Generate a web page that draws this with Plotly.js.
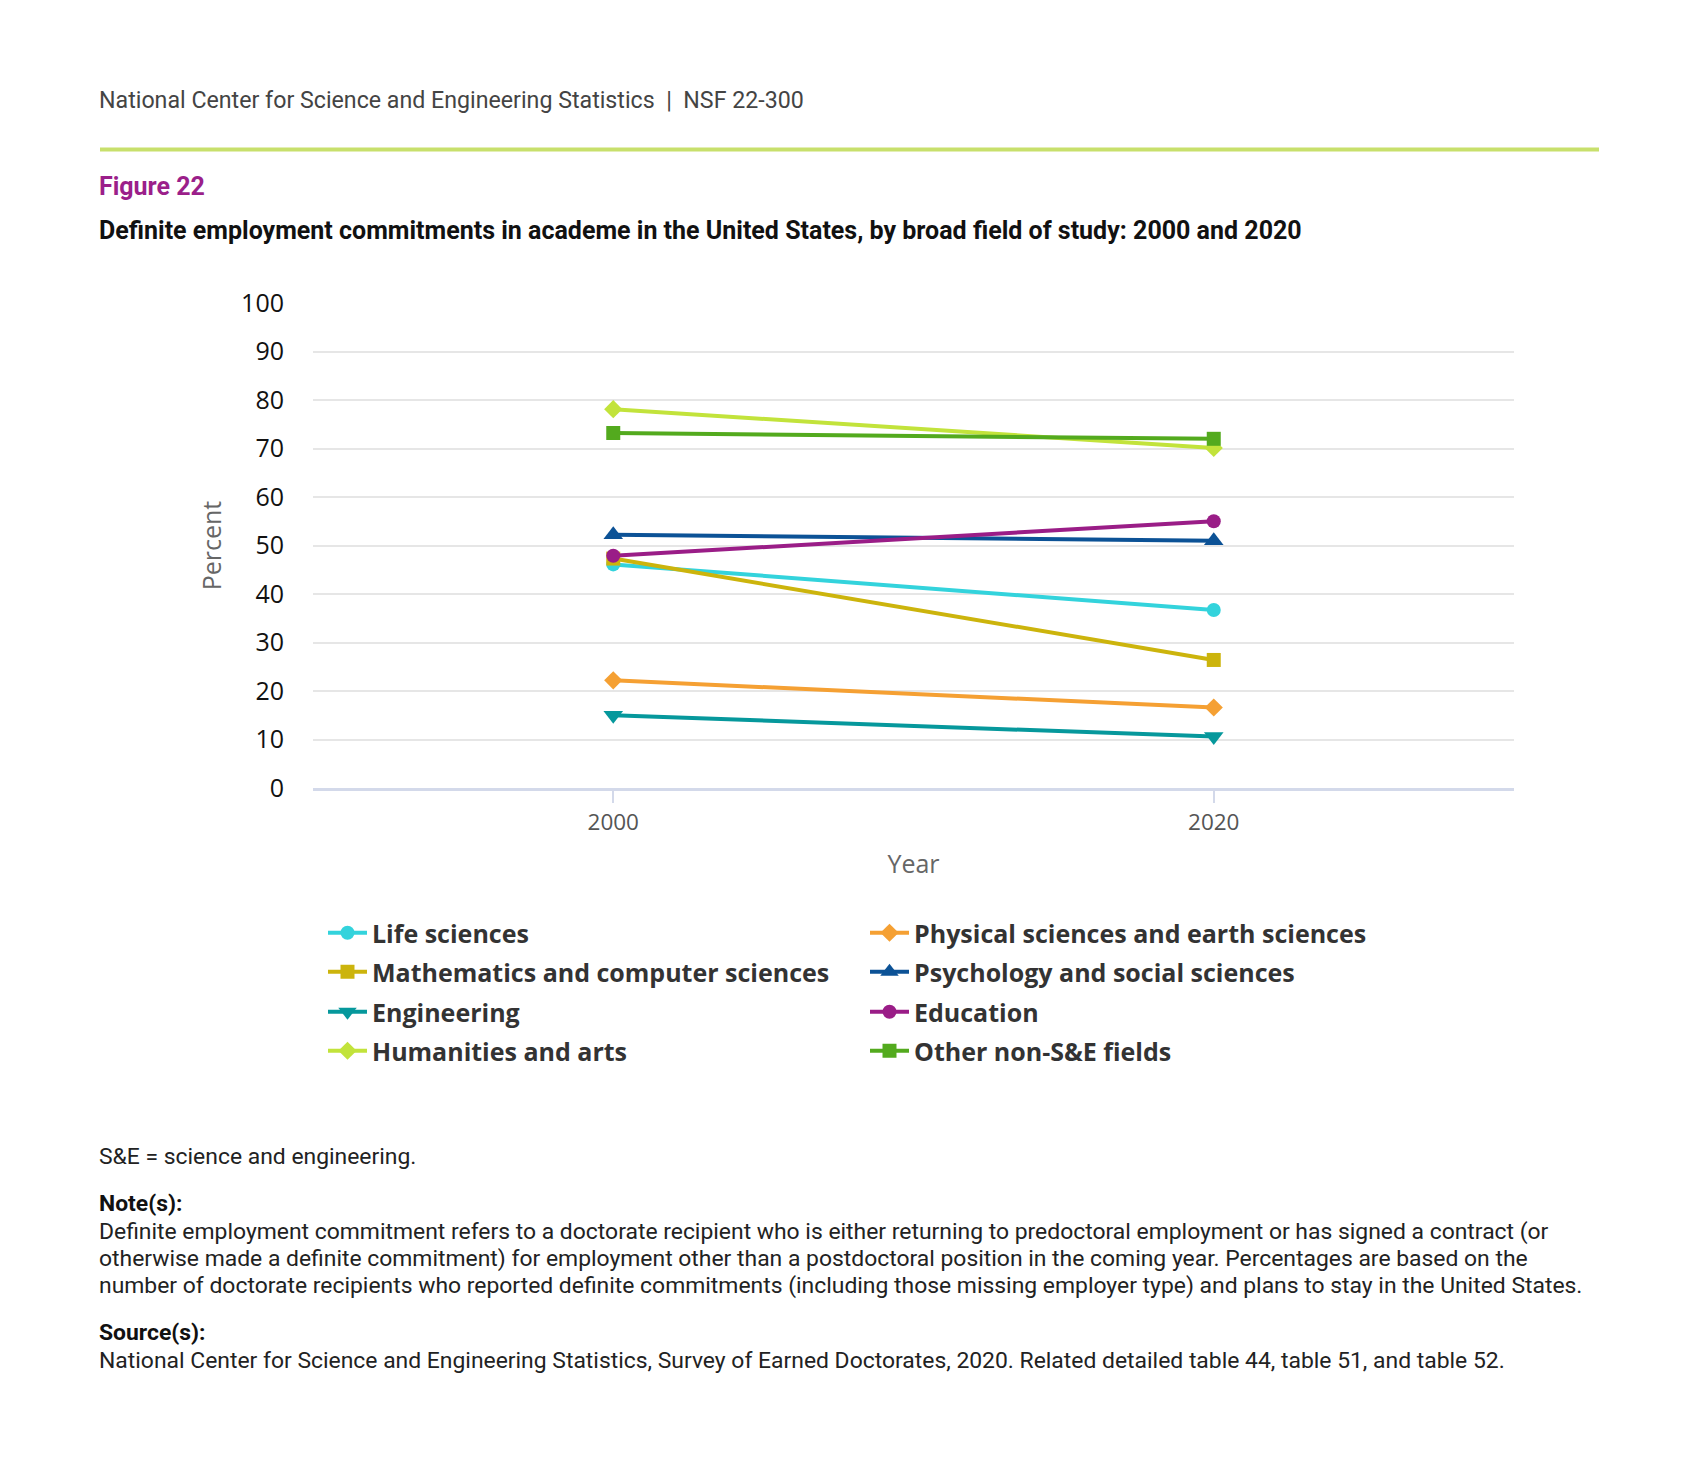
<!DOCTYPE html>
<html>
<head>
<meta charset="utf-8">
<script src="https://cdn.plot.ly/plotly-3.0.1.min.js"></script>
<style>
html,body{margin:0;padding:0;background:#fff;}
#chart{width:1699px;height:1482px;}
</style>
</head>
<body>
<div id="chart"></div>
<script>
// ---- Data ----
const years = [2000, 2020];
const seriesNames = [
  "Life sciences",
  "Physical sciences and earth sciences",
  "Mathematics and computer sciences",
  "Psychology and social sciences",
  "Engineering",
  "Education",
  "Humanities and arts",
  "Other non-S&E fields"
];
const lifeSciences = [46.1, 36.7];
const physicalSciences = [22.2, 16.6];
const mathCompSci = [47.3, 26.4];
const psychSocial = [52.2, 51.0];
const engineering = [15.0, 10.6];
const education = [47.9, 55.0];
const humanitiesArts = [78.1, 70.1];
const otherNonSE = [73.2, 72.0];
const seriesValues = [lifeSciences, physicalSciences, mathCompSci, psychSocial, engineering, education, humanitiesArts, otherNonSE];
const yTickVals = [0,10,20,30,40,50,60,70,80,90,100];
const xTickVals = [2000, 2020];

// ---- Styles ----
const colors = ["#33d3dc", "#f5a033", "#ccb40c", "#0c5296", "#06989c", "#9a1d87", "#c2e33b", "#53aa1e"];
const symbols = ["circle", "diamond", "square", "triangle-up", "triangle-down", "circle", "diamond", "square"];
const markerSizes = [14, 14, 14, 17, 17, 14, 14, 14];

const W = 1699, H = 1482;
const M = {l: 313, r: 185, t: 303, b: 694};
const PW = W - M.l - M.r, PH = H - M.t - M.b;
const px = x => (x - M.l) / PW;
const py = y => (H - M.b - y) / PH;

const legendRowY = [933, 972, 1012, 1051];

const traces = seriesNames.map((name, i) => ({
  type: "scatter",
  mode: "lines+markers",
  name: name,
  x: years,
  y: seriesValues[i],
  line: {color: colors[i], width: 4},
  marker: {color: colors[i], symbol: symbols[i], size: markerSizes[i]},
  legend: Math.floor(i / 2) === 0 ? "legend" : "legend" + (Math.floor(i / 2) + 1),
  hoverinfo: "x+y+name"
}));

const legendFont = {family: "Open Sans", size: 25, color: "#333", weight: 700};
function legendCfg(row) {
  return {
    orientation: "h",
    xref: "container", yref: "container",
    x: 323 / W, y: 1 - legendRowY[row] / H,
    xanchor: "left", yanchor: "middle",
    itemwidth: 39,
    entrywidth: 488, entrywidthmode: "pixels",
    font: legendFont,
    bgcolor: "rgba(0,0,0,0)",
    itemclick: false, itemdoubleclick: false
  };
}

const textFont = "Roboto";
const TX = 100;
const NS = 22.9;
const annotations = [
  {text: "National Center for Science and Engineering Statistics  |  NSF 22-300", x: px(TX), y: py(100),
   font: {family: textFont, size: 23.2, color: "#444"}},
  {text: "<b>Figure 22</b>", x: px(TX), y: py(186), font: {family: textFont, size: 25, color: "#9b1f8a"}},
  {text: "<b>Definite employment commitments in academe in the United States, by broad field of study: 2000 and 2020</b>",
   x: px(TX), y: py(230), font: {family: textFont, size: 25, color: "#111"}},
  {text: "S&E = science and engineering.", x: px(TX), y: py(1156), font: {family: textFont, size: NS, color: "#222"}},
  {text: "<b>Note(s):</b>", x: px(TX), y: py(1203), font: {family: textFont, size: NS, color: "#111"}},
  {text: "Definite employment commitment refers to a doctorate recipient who is either returning to predoctoral employment or has signed a contract (or",
   x: px(TX), y: py(1231), font: {family: textFont, size: NS, color: "#222"}},
  {text: "otherwise made a definite commitment) for employment other than a postdoctoral position in the coming year. Percentages are based on the",
   x: px(TX), y: py(1258), font: {family: textFont, size: NS, color: "#222"}},
  {text: "number of doctorate recipients who reported definite commitments (including those missing employer type) and plans to stay in the United States.",
   x: px(TX), y: py(1285), font: {family: textFont, size: NS, color: "#222"}},
  {text: "<b>Source(s):</b>", x: px(TX), y: py(1332), font: {family: textFont, size: NS, color: "#111"}},
  {text: "National Center for Science and Engineering Statistics, Survey of Earned Doctorates, 2020. Related detailed table 44, table 51, and table 52.",
   x: px(TX), y: py(1360), font: {family: textFont, size: NS, color: "#222"}}
].map(a => Object.assign({xref: "paper", yref: "paper", xanchor: "left", yanchor: "middle", showarrow: false, align: "left", borderpad: 0, xshift: -2}, a));

const layout = {
  width: W, height: H,
  margin: M,
  paper_bgcolor: "#fff", plot_bgcolor: "#fff",
  showlegend: true,
  font: {family: "Open Sans", color: "#222"},
  xaxis: {
    range: [1990, 2030],
    tickvals: xTickVals,
    ticktext: xTickVals.map(String),
    ticks: "outside", ticklen: 12, tickwidth: 2, tickcolor: "#d3d9ea",
    tickfont: {family: "Open Sans", size: 22.5, color: "#555"},
    showgrid: false, zeroline: false,
    showline: true, linecolor: "#d3d9ea", linewidth: 3,
    title: {text: "Year", font: {family: "Open Sans", size: 25, color: "#666"}, standoff: 20},
    fixedrange: true
  },
  yaxis: {
    range: [0, 100],
    tickvals: yTickVals,
    ticks: "outside", ticklen: 23, tickcolor: "rgba(0,0,0,0)",
    tickfont: {family: "Open Sans", size: 25, color: "#111"},
    showgrid: true, gridcolor: "#e6e6e6", gridwidth: 2,
    zeroline: false, showline: false,
    title: {text: "Percent", font: {family: "Open Sans", size: 25, color: "#666"}, standoff: 12},
    fixedrange: true
  },
  legend: legendCfg(0),
  legend2: legendCfg(1),
  legend3: legendCfg(2),
  legend4: legendCfg(3),
  shapes: [{type: "line", xref: "paper", yref: "paper", x0: px(100), x1: px(1599), y0: py(149.5), y1: py(149.5),
            line: {color: "#c8e06c", width: 4}}],
  annotations: annotations
};

Plotly.newPlot("chart", traces, layout, {displayModeBar: false, responsive: false});
</script>
</body>
</html>
